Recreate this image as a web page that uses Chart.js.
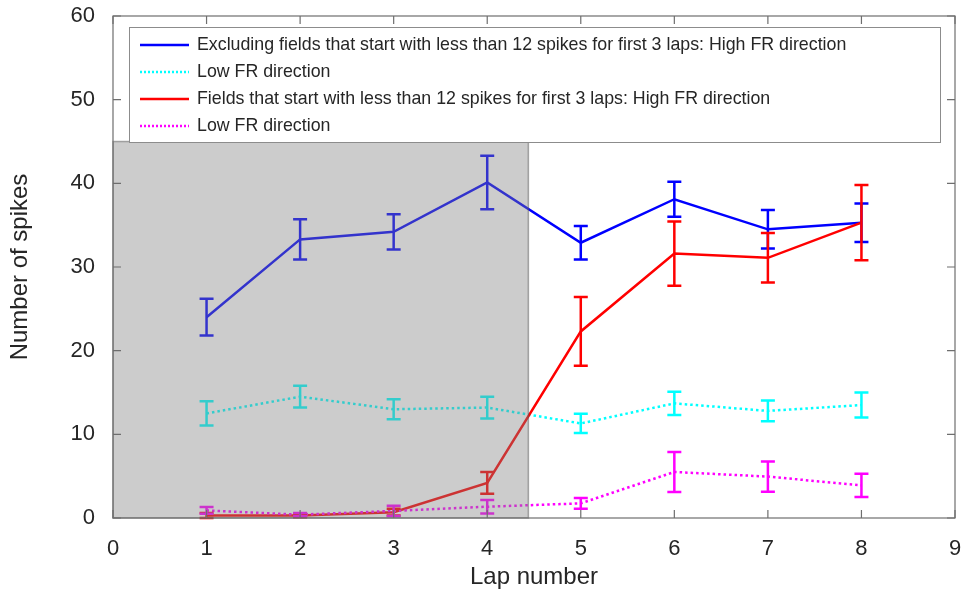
<!DOCTYPE html>
<html>
<head>
<meta charset="utf-8">
<script src="https://cdn.jsdelivr.net/npm/chart.js@4"></script>
<style>
  html, body { margin: 0; padding: 0; background: #fff; }
  #wrap { width: 962px; height: 595px; }
</style>
</head>
<body>
<div id="wrap"><canvas id="chart" width="962" height="595"></canvas></div>
<script>
// ================================
// DATA
// ================================
const laps = [1, 2, 3, 4, 5, 6, 7, 8];

const blueMean = [24.0, 33.3, 34.2, 40.1, 32.9, 38.1, 34.5, 35.3];
const blueErr = [2.2, 2.4, 2.1, 3.2, 2.0, 2.1, 2.3, 2.3];

const cyanMean = [12.5, 14.5, 13.0, 13.2, 11.3, 13.7, 12.8, 13.5];
const cyanErr = [1.45, 1.3, 1.2, 1.3, 1.15, 1.4, 1.25, 1.5];

const redMean = [0.3, 0.3, 0.7, 4.2, 22.3, 31.6, 31.1, 35.3];
const redErr = [0.3, 0.2, 0.4, 1.3, 4.1, 3.85, 2.95, 4.5];

const magentaMean = [0.9, 0.4, 0.85, 1.35, 1.75, 5.5, 4.95, 3.9];
const magentaErr = [0.4, 0.2, 0.6, 0.8, 0.65, 2.4, 1.8, 1.4];

const xTicks = [0, 1, 2, 3, 4, 5, 6, 7, 8, 9];
const yTicks = [0, 10, 20, 30, 40, 50, 60];

// shaded region (lap range, spike range)
const shadeX = [0, 4.44];
const shadeY = [0, 45];

const FONT = "'Liberation Sans', Arial, Helvetica, sans-serif";
const TEXT = "#262626";
const AXIS = "#6e6e6e";

const toPoints = (ys) => laps.map((x, i) => ({ x: x, y: ys[i] }));

const series = [
  { label: "Excluding fields that start with less than 12 spikes for first 3 laps: High FR direction",
    mean: blueMean, err: blueErr, color: "#0000ff", dotted: false },
  { label: "Low FR direction", mean: cyanMean, err: cyanErr, color: "#00ffff", dotted: true },
  { label: "Fields that start with less than 12 spikes for first 3 laps: High FR direction",
    mean: redMean, err: redErr, color: "#ff0000", dotted: false },
  { label: "Low FR direction", mean: magentaMean, err: magentaErr, color: "#ff00ff", dotted: true },
];

// ================================
// PLUGINS
// ================================
const errorBars = {
  id: "errorBars",
  afterDatasetsDraw(chart) {
    const { ctx, scales } = chart;
    ctx.save();
    series.forEach((s) => {
      ctx.strokeStyle = s.color;
      ctx.lineWidth = 2.5;
      laps.forEach((lap, i) => {
        const x = scales.x.getPixelForValue(lap);
        const yt = scales.y.getPixelForValue(s.mean[i] + s.err[i]);
        const yb = scales.y.getPixelForValue(Math.max(0, s.mean[i] - s.err[i]));
        ctx.beginPath();
        ctx.moveTo(x, yt); ctx.lineTo(x, yb);
        ctx.moveTo(x - 7, yt); ctx.lineTo(x + 7, yt);
        ctx.moveTo(x - 7, yb); ctx.lineTo(x + 7, yb);
        ctx.stroke();
      });
    });

    // grey patch over first laps
    const x0 = scales.x.getPixelForValue(shadeX[0]);
    const x1 = scales.x.getPixelForValue(shadeX[1]);
    const y0 = scales.y.getPixelForValue(shadeY[0]);
    const y1 = scales.y.getPixelForValue(shadeY[1]);
    ctx.fillStyle = "rgba(128,128,128,0.4)";
    ctx.fillRect(x0, y1, x1 - x0, y0 - y1);
    ctx.strokeStyle = "rgba(90,90,90,0.5)";
    ctx.lineWidth = 1.5;
    ctx.strokeRect(x0, y1, x1 - x0, y0 - y1);
    ctx.restore();
  },
};

const boxAxes = {
  id: "boxAxes",
  afterDraw(chart) {
    const { ctx, chartArea: a, scales } = chart;
    ctx.save();
    ctx.strokeStyle = AXIS;
    ctx.lineWidth = 1.2;
    ctx.strokeRect(a.left, a.top, a.right - a.left, a.bottom - a.top);
    ctx.beginPath();
    xTicks.forEach((t) => {
      const x = scales.x.getPixelForValue(t);
      ctx.moveTo(x, a.bottom); ctx.lineTo(x, a.bottom - 8);
      ctx.moveTo(x, a.top); ctx.lineTo(x, a.top + 8);
    });
    yTicks.forEach((t) => {
      const y = scales.y.getPixelForValue(t);
      ctx.moveTo(a.left, y); ctx.lineTo(a.left + 8, y);
      ctx.moveTo(a.right, y); ctx.lineTo(a.right - 8, y);
    });
    ctx.stroke();

    // legend box inside the axes
    const lx = 129, ly = 27, lw = 811, lh = 115;
    ctx.fillStyle = "#fff";
    ctx.fillRect(lx, ly, lw, lh);
    ctx.strokeStyle = "#8c8c8c";
    ctx.lineWidth = 1;
    ctx.strokeRect(lx + 0.5, ly + 0.5, lw, lh);
    ctx.font = "17.8px " + FONT;
    ctx.textBaseline = "middle";
    series.forEach((s, i) => {
      const y = 45 + i * 27;
      ctx.strokeStyle = s.color;
      ctx.lineWidth = 2.5;
      ctx.setLineDash(s.dotted ? [2, 2] : []);
      ctx.beginPath();
      ctx.moveTo(140, y); ctx.lineTo(189, y);
      ctx.stroke();
      ctx.setLineDash([]);
      ctx.fillStyle = TEXT;
      ctx.fillText(s.label, 197, y);
    });
    ctx.restore();
  },
};

// ================================
// CHART
// ================================
new Chart(document.getElementById("chart"), {
  type: "line",
  data: {
    datasets: series.map((s, i) => ({
      label: s.label,
      data: toPoints(s.mean),
      borderColor: s.color,
      backgroundColor: s.color,
      borderWidth: 2.5,
      borderDash: s.dotted ? [2.5, 3] : [],
      pointRadius: 0,
      tension: 0,
      order: 4 - i,
    })),
  },
  options: {
    responsive: false,
    animation: false,
    layout: { padding: { top: 16, right: 7, left: 0, bottom: 0 } },
    plugins: { legend: { display: false }, tooltip: { enabled: false } },
    scales: {
      x: {
        type: "linear",
        min: 0,
        max: 9,
        afterBuildTicks: (axis) => { axis.ticks = xTicks.map((v) => ({ value: v })); },
        afterFit: (axis) => {
          axis.height = 77;
          axis.paddingLeft = 0;
          axis.paddingRight = 0;
        },
        grid: { display: false },
        border: { display: false },
        ticks: { padding: 10, color: TEXT, font: { family: FONT, size: 22 } },
        title: {
          display: true,
          text: "Lap number",
          color: TEXT,
          font: { family: FONT, size: 24 },
          padding: { top: 0, bottom: 3 },
        },
      },
      y: {
        min: 0,
        max: 60,
        afterBuildTicks: (axis) => { axis.ticks = yTicks.map((v) => ({ value: v })); },
        afterFit: (axis) => {
          axis.width = 113;
          axis.paddingTop = 0;
          axis.paddingBottom = 0;
        },
        grid: { display: false },
        border: { display: false },
        ticks: { padding: 10, color: TEXT, font: { family: FONT, size: 22 } },
        title: {
          display: true,
          text: "Number of spikes",
          color: TEXT,
          font: { family: FONT, size: 24 },
          padding: { top: 6, bottom: 0 },
        },
      },
    },
  },
  plugins: [errorBars, boxAxes],
});
</script>
</body>
</html>
